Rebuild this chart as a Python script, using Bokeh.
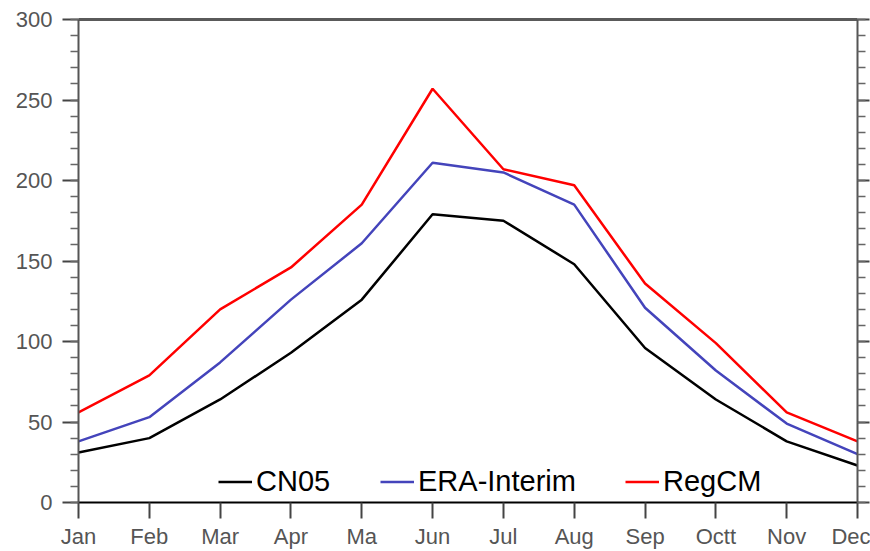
from bokeh.plotting import figure
from bokeh.models import (LinearAxis, FixedTicker, SingleIntervalTicker, Range1d,
                          Legend, LegendItem, CustomJSTickFormatter)
from bokeh.embed import file_html
from bokeh.resources import INLINE

# Monthly climatology, 12 months
months = ["Jan", "Feb", "Mar", "Apr", "Ma", "Jun", "Jul", "Aug", "Sep", "Octt", "Nov", "Dec"]
month_idx = list(range(1, 13))
cn05 = [31, 40, 64, 93, 126, 179, 175, 148, 96, 64, 38, 23]
era_interim = [38, 53, 87, 126, 161, 211, 205, 185, 121, 82, 49, 30]
regcm = [56, 79, 120, 146, 185, 257, 207, 197, 136, 99, 56, 38]

FONT = "Liberation Sans"
LABEL_COLOR = "#555555"

p = figure(width=870, height=551, output_backend="svg", toolbar_location=None,
           x_range=Range1d(1, 12), y_range=Range1d(0, 300),
           x_axis_location=None, y_axis_location=None,
           min_border_left=78, min_border_right=13, min_border_top=19, min_border_bottom=48)
p.outline_line_color = None
p.grid.visible = False
p.background_fill_color = "white"
p.border_fill_color = "white"

# bottom axis: month names
xax = LinearAxis(ticker=FixedTicker(ticks=month_idx),
                 major_label_overrides={i: m for i, m in zip(month_idx, months)})
xax.axis_line_color = "black"
xax.axis_line_width = 2
xax.major_tick_line_color = "#444444"
xax.major_tick_line_width = 2
xax.major_tick_out = 16
xax.major_tick_in = 0
xax.minor_tick_line_color = None
xax.major_label_standoff = 5
xax.major_label_text_font = FONT
xax.major_label_text_font_size = "22px"
xax.major_label_text_color = LABEL_COLOR
p.add_layout(xax, "below")

# left/right axes with minor ticks every 10
def y_axis(labels):
    ax = LinearAxis(ticker=SingleIntervalTicker(interval=50, num_minor_ticks=5))
    ax.axis_line_color = "#555555"
    ax.axis_line_width = 2
    ax.major_tick_line_color = "#444444"
    ax.major_tick_line_width = 2
    ax.major_tick_in = 0
    ax.minor_tick_line_color = "#666666"
    ax.minor_tick_line_width = 1.5
    ax.minor_tick_in = 0
    ax.minor_tick_out = 8
    if labels:
        ax.major_tick_out = 16
        ax.major_label_standoff = 10
        ax.major_label_text_font = FONT
        ax.major_label_text_font_size = "22px"
        ax.major_label_text_color = LABEL_COLOR
    else:
        ax.major_tick_out = 12
        ax.major_label_standoff = 0
        ax.formatter = CustomJSTickFormatter(code="return ''")
    return ax

p.add_layout(y_axis(True), "left")
p.add_layout(y_axis(False), "right")

# top frame line
top = LinearAxis(ticker=FixedTicker(ticks=[]))
top.axis_line_color = "#5a5a5a"
top.axis_line_width = 3
top.major_tick_out = 0
top.major_tick_in = 0
top.minor_tick_line_color = None
top.major_label_standoff = 0
p.add_layout(top, "above")

series = [("CN05", cn05, "black", 140),
          ("ERA-Interim", era_interim, "#4444bb", 302),
          ("RegCM", regcm, "#ff0000", 547)]

for name, vals, color, lx in series:
    r = p.line(month_idx, vals, line_color=color, line_width=2.5)
    lg = Legend(items=[LegendItem(label=name, renderers=[r])], location=(lx, 4),
                orientation="horizontal", border_line_color=None,
                background_fill_alpha=0, padding=0, margin=0, spacing=0,
                glyph_width=34, glyph_height=31, label_height=31,
                label_standoff=4, label_text_font=FONT,
                label_text_font_size="29px", label_text_color="black")
    p.add_layout(lg, "center")

open("out.html", "w").write(file_html(p, INLINE))
